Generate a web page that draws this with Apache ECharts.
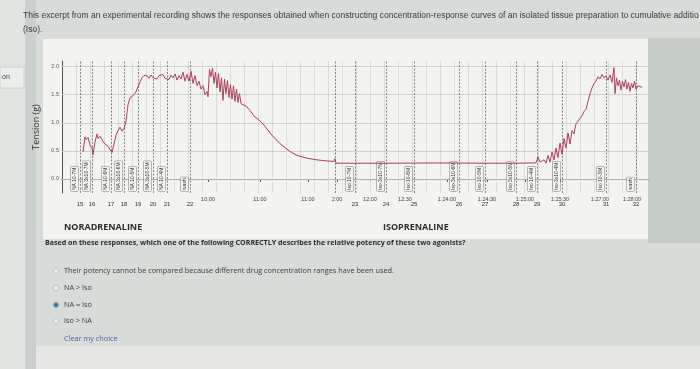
<!DOCTYPE html>
<html><head><meta charset="utf-8">
<script src="https://cdn.jsdelivr.net/npm/echarts@6/dist/echarts.min.js"></script>
<style>html,body{margin:0;padding:0;background:#d7dcd8;}#c{width:700px;height:369px;}</style>
</head><body><div id="c"></div>
<script>
// ---- data (x in minutes of recording, y tension in g) ----
const traceX = [4.2,4.6,4.8,5.2,5.6,6.0,6.2,6.6,7.0,7.2,7.6,8.0,8.4,8.8,9.2,9.6,10.0,10.4,10.8,11.2,11.6,12.0,12.4,12.8,13.0,13.2,13.6,14.0,14.4,14.8,15.2,15.6,16.0,16.4,16.8,
 17.0,17.4,17.8,18.2,18.6,19.0,19.4,19.8,20.2,20.6,21.0,21.4,21.8,22.2,22.6,23.0,23.4,23.8,24.2,24.6,
 25.0,25.4,25.8,26.2,26.6,27.0,27.4,27.8,28.2,28.6,29.0,29.2,29.5,29.8,30.1,30.4,30.7,31.0,31.3,31.6,31.9,32.2,32.5,32.8,33.1,33.4,33.7,34.0,34.3,34.6,34.9,35.2,35.5,35.8,36.2,36.8,37.6,38.4,39.4,40.4,41.6,42.8,44.0,45.6,47.0,49.0,51.0,53.0,54.4,54.6,54.8,
 55.2,65.0,75.0,85.0,90.0,94.8,95.2,95.6,96.0,
 96.4,96.8,97.2,97.6,98.0,98.4,98.8,99.2,99.6,100.0,100.4,100.8,101.2,101.6,102.0,102.4,102.8,103.2,103.6,104.0,104.4,104.8,105.2,105.6,106.0,106.4,106.8,107.2,107.6,108.0,108.4,108.8,109.2,109.6,110.0,110.4,110.6,110.9,111.2,111.5,111.8,112.1,112.4,112.7,113.0,113.3,113.6,113.9,114.2,114.5,114.8,115.2,116.0];
const traceY = [0.48,0.75,0.70,0.74,0.60,0.55,0.43,0.66,0.80,0.72,0.76,0.70,0.64,0.66,0.58,0.55,0.47,0.62,0.78,0.86,0.92,0.85,0.90,1.02,1.18,1.32,1.44,1.46,1.50,1.55,1.64,1.73,1.80,1.84,1.81,
 1.84,1.79,1.85,1.80,1.83,1.78,1.84,1.81,1.86,1.79,1.82,1.77,1.85,1.80,1.87,1.76,1.84,1.78,1.90,1.74,
 1.86,1.74,1.92,1.70,1.84,1.66,1.74,1.60,1.66,1.50,1.56,1.46,1.95,1.82,1.97,1.70,1.90,1.62,1.88,1.55,1.80,1.40,1.78,1.52,1.75,1.45,1.68,1.42,1.66,1.38,1.60,1.36,1.52,1.34,1.36,1.30,1.22,1.12,1.05,0.96,0.82,0.70,0.60,0.49,0.42,0.37,0.34,0.32,0.31,0.36,0.28,
 0.28,0.28,0.285,0.28,0.28,0.285,0.39,0.30,0.27,
 0.34,0.28,0.42,0.30,0.48,0.34,0.55,0.38,0.64,0.44,0.72,0.55,0.82,0.62,0.86,0.80,0.98,0.95,1.08,1.12,1.20,1.24,1.38,1.52,1.62,1.70,1.74,1.82,1.78,1.86,1.80,1.84,1.76,1.85,1.72,1.98,1.52,1.80,1.66,1.76,1.58,1.74,1.64,1.77,1.60,1.72,1.56,1.70,1.62,1.74,1.60,1.66,1.63];
const eventX = [3.6,6.0,9.8,12.4,15.2,18.2,21.0,25.6,54.6,58.6,64.8,70.4,79.4,84.6,90.8,95.0,100.0,108.8,114.8];
const eventLabels = ['NA 10-7M','NA 3x10-7M','NA 10-6M','NA 3x10-6M','NA 10-5M','NA 3x10-5M','NA 10-4M','wash','',
 'Iso 10-7M','Iso 3x10-7M','Iso 10-6M','Iso 3x10-6M','Iso 10-5M','Iso 3x10-5M','Iso 10-4M','Iso 3x10-4M','Iso 10-3M','wash'];
const eventNumbers = ['15','16','17','18','19','20','21','22','','23','24','25','26','27','28','29','30','31','32'];
const timeX = [29.2,39.6,49.2,55.0,61.6,68.6,77.0,85.0,92.6,99.6,107.6,114.0];
const timeLabels = ['10:00','11:00','11:00','2:00','12:00','12:30','1:24:00','1:24:30','1:25:00','1:25:30','1:27:00','1:28:00'];
const yTicks = [0,0.5,1.0,1.5,2.0];
const xGridStep = 2.8;

const FN = "'Liberation Sans Narrow','Liberation Sans',sans-serif";
const OS = "'Open Sans',sans-serif";
const chart = echarts.init(document.getElementById('c'), null, {renderer:'canvas'});
const numPos = eventX.filter((v,i)=>eventNumbers[i]!=='');
function nearestIdx(arr,v){let b=0,d=1e9;arr.forEach((a,i)=>{if(Math.abs(a-v)<d){d=Math.abs(a-v);b=i;}});return b;}
const xGrid = [];
for (let v = xGridStep; v < 117.2; v += xGridStep) xGrid.push(+v.toFixed(2));

const option = {
  backgroundColor:'#d7dcd8',
  animation:false,
  grid:{left:62,right:52,top:61,bottom:176,containLabel:false},
  xAxis:[
    {type:'value',min:0,max:117.2,position:'bottom',
     axisLine:{show:true,lineStyle:{color:'#555',width:1}},
     axisTick:{show:true,customValues:timeX,length:3,lineStyle:{color:'#555'}},
     axisLabel:{show:true,customValues:timeX,fontSize:5.5,color:'#444',fontFamily:FN,margin:3,
       formatter:v=>timeLabels[nearestIdx(timeX,v)]},
     splitLine:{show:false}},
    {type:'value',min:0,max:117.2,position:'bottom',offset:6,
     axisLine:{show:false},axisTick:{show:false},splitLine:{show:false},
     axisLabel:{show:true,customValues:numPos,fontSize:6,color:'#333',fontFamily:FN,margin:2,
       formatter:v=>eventNumbers[nearestIdx(eventX,v)]}}
  ],
  yAxis:[{type:'value',min:-0.25,max:2.1,
    name:'Tension (g)',nameLocation:'middle',nameGap:12,nameTextStyle:{fontSize:9,color:'#333',fontFamily:OS},
    axisLine:{show:true,lineStyle:{color:'#555'}},
    axisTick:{show:false},
    axisLabel:{customValues:yTicks,fontSize:5.5,color:'#555',fontFamily:FN,margin:3,formatter:v=>v.toFixed(1)},
    splitLine:{show:false}}],
  series:[
    {type:'line',xAxisIndex:0,yAxisIndex:0,data:[],silent:true,z:1,
     markLine:{silent:true,symbol:'none',animation:false,
       lineStyle:{color:'#d6d6d3',width:0.8,type:'solid'},label:{show:false},
       data:xGrid.map(v=>({xAxis:v}))}},
    {type:'line',xAxisIndex:0,yAxisIndex:0,data:[],silent:true,z:2,
     markLine:{silent:true,symbol:'none',animation:false,
       lineStyle:{color:'#c6c6c3',width:0.8,type:'solid'},label:{show:false},
       data:yTicks.map(v=>({yAxis:v}))}},
    {type:'line',xAxisIndex:0,yAxisIndex:0,data:[],silent:true,z:3,
     markLine:{silent:true,symbol:'none',animation:false,
       lineStyle:{color:'#666',width:0.8,type:[2,1.5]},
       label:{show:true,position:'insideStartTop',fontSize:5,color:'#333',fontFamily:FN,distance:2,
         padding:[1,1],borderColor:'#777',borderWidth:0.5,backgroundColor:'#f4f4f2'},
       data:eventX.map((x,i)=>({xAxis:x,label:{formatter:eventLabels[i],show:eventLabels[i]!==''}}))}},
    {type:'line',xAxisIndex:0,yAxisIndex:0,showSymbol:false,z:5,
     lineStyle:{color:'#ad4059',width:1},
     data:traceX.map((x,i)=>[x,traceY[i]])}
  ],
  graphic:[
    {type:'rect',z:-10,shape:{x:0,y:0,width:700,height:369},style:{fill:'#d7dcd8'}},
    {type:'rect',z:-9,shape:{x:0,y:0,width:25,height:369},style:{fill:'#e2e4e1'}},
    {type:'rect',z:-9,shape:{x:25,y:0,width:11,height:369},style:{fill:'#c9cfcc'}},
    {type:'rect',z:-9,shape:{x:0,y:67,width:24,height:21},style:{fill:'#eceeeb',stroke:'#c8ccc8',lineWidth:0.8}},
    {type:'text',z:10,style:{x:2,y:74,text:'on',fontSize:7,fill:'#444',fontFamily:FN}},
    {type:'rect',z:-9,shape:{x:36,y:346,width:664,height:23},style:{fill:'#e7e8e5'}},
    {type:'rect',z:-9,shape:{x:648,y:38,width:52,height:205},style:{fill:'#c5cbc7'}},
    {type:'rect',z:-8,shape:{x:43,y:39,width:605,height:200},style:{fill:'#f3f3f0'}},
    {type:'text',z:10,style:{x:23,y:11,text:'This excerpt from an experimental recording shows the responses obtained when constructing concentration-response curves of an isolated tissue preparation to cumulative additio',fontSize:8.5,fill:'#3a3a3a',fontFamily:FN}},
    {type:'text',z:10,style:{x:23,y:25,text:'(Iso).',fontSize:8.5,fill:'#3a3a3a',fontFamily:FN}},
    {type:'text',z:10,style:{x:64,y:223,text:'NORADRENALINE',fontSize:9,fontWeight:'bold',fill:'#2c2c2c',fontFamily:OS}},
    {type:'text',z:10,style:{x:383,y:223,text:'ISOPRENALINE',fontSize:9,fontWeight:'bold',fill:'#2c2c2c',fontFamily:OS}},
    {type:'text',z:10,style:{x:45,y:239,text:'Based on these responses, which one of the following CORRECTLY describes the relative potency of these two agonists?',fontSize:7.1,fontWeight:'bold',fill:'#2e2e2e',fontFamily:OS}},
    {type:'circle',z:10,shape:{cx:56,cy:271,r:2.5},style:{fill:'#eef0ee',stroke:'#b8bcb9',lineWidth:0.8}},
    {type:'text',z:10,style:{x:64,y:267,text:'Their potency cannot be compared because different drug concentration ranges have been used.',fontSize:7.3,fill:'#3a3a3a',fontFamily:OS}},
    {type:'circle',z:10,shape:{cx:56,cy:288,r:2.5},style:{fill:'#eef0ee',stroke:'#b8bcb9',lineWidth:0.8}},
    {type:'text',z:10,style:{x:64,y:284,text:'NA > Iso',fontSize:7.3,fill:'#3a3a3a',fontFamily:OS}},
    {type:'circle',z:10,shape:{cx:56,cy:305,r:2.5},style:{fill:'#3b6fb0',stroke:'#9fb3cc',lineWidth:0.8}},
    {type:'text',z:10,style:{x:64,y:301,text:'NA = Iso',fontSize:7.3,fill:'#3a3a3a',fontFamily:OS}},
    {type:'circle',z:10,shape:{cx:56,cy:321,r:2.5},style:{fill:'#eef0ee',stroke:'#b8bcb9',lineWidth:0.8}},
    {type:'text',z:10,style:{x:64,y:317,text:'Iso > NA',fontSize:7.3,fill:'#3a3a3a',fontFamily:OS}},
    {type:'text',z:10,style:{x:64,y:335,text:'Clear my choice',fontSize:7.3,fill:'#4a64a0',fontFamily:OS}}
  ]
};
chart.setOption(option);
</script></body></html>
